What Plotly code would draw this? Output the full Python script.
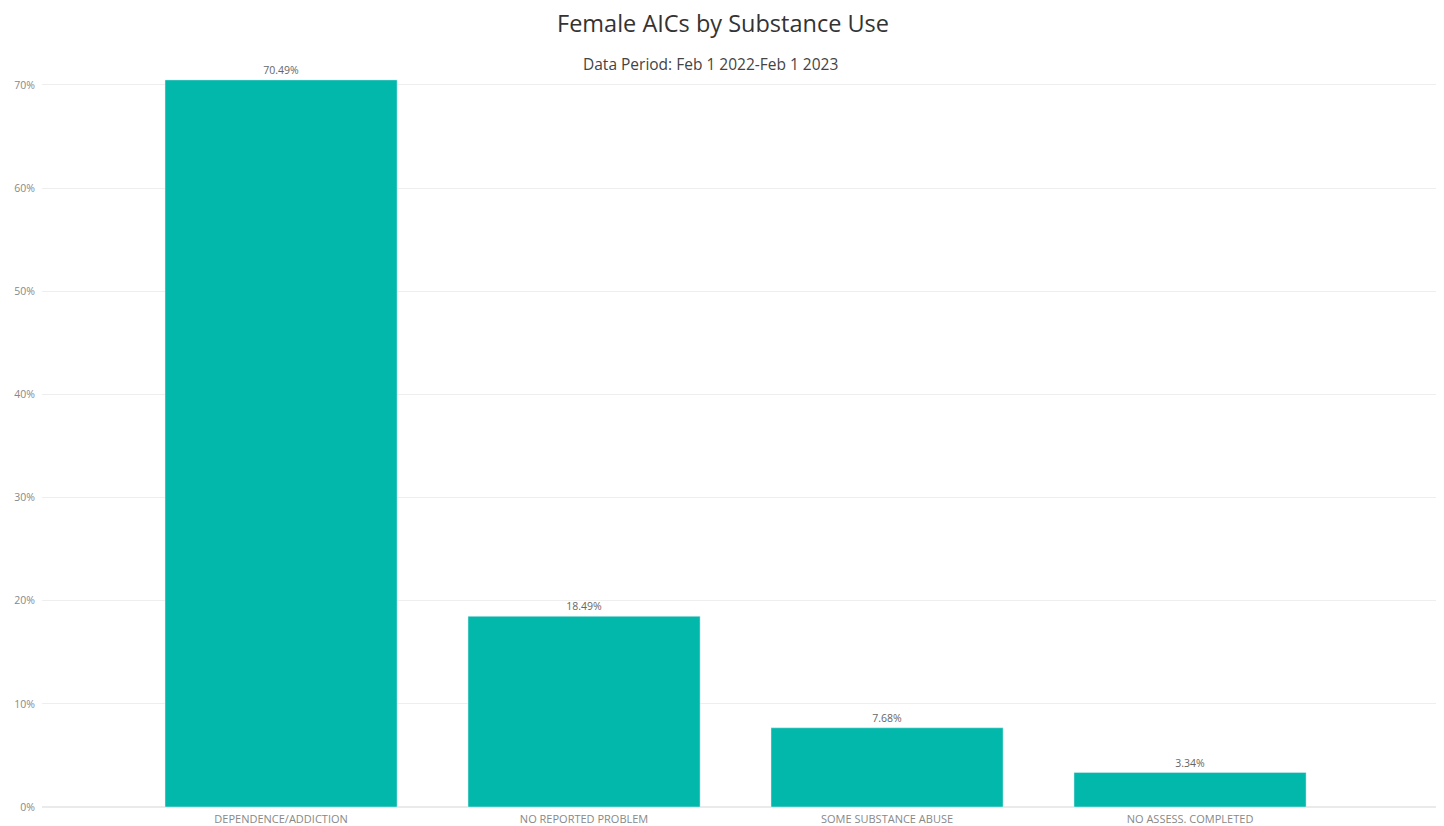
import plotly.graph_objects as go

categories = ["DEPENDENCE/ADDICTION", "NO REPORTED PROBLEM", "SOME SUBSTANCE ABUSE", "NO ASSESS. COMPLETED"]
values = [70.49, 18.49, 7.68, 3.34]
tick_vals = [0, 10, 20, 30, 40, 50, 60, 70]
tick_text = ["0%", "10%", "20%", "30%", "40%", "50%", "60%", "70%"]

# page body has an 8px margin, so the figure is drawn slightly smaller
W, H = 1436, 818
ml, mr, mt, mb = 34, 4, 46, 19
ph = H - mt - mb
pw = W - ml - mr

fig = go.Figure(go.Bar(
    x=list(range(len(categories))),
    y=values,
    marker_color="#01B8AA",
    text=[f"{v:.2f}%" for v in values],
    textposition="outside",
    textfont=dict(size=10.5, color="#666666", family="Open Sans"),
    cliponaxis=False,
    width=0.766,
))

fig.update_layout(
    width=W, height=H,
    margin=dict(l=ml, r=mr, t=mt, b=mb, autoexpand=False),
    plot_bgcolor="white", paper_bgcolor="white",
    font=dict(family="Open Sans", color="#777777"),
    showlegend=False,
    title=dict(text="Female AICs by Substance Use", x=(723 - 8) / W, xanchor="center",
               y=1 - 16 / H, yanchor="middle",
               font=dict(size=23.5, color="#333333", family="Open Sans")),
    xaxis=dict(range=[-0.789, 3.825], tickvals=list(range(len(categories))),
               ticktext=categories, tickfont=dict(size=11, color="#888888"),
               showgrid=False, zeroline=False, showline=False, ticklen=0,
               ticklabelstandoff=4, automargin=False),
    yaxis=dict(range=[0, 73], tickvals=tick_vals, ticktext=tick_text,
               tickfont=dict(size=10.5, color="#888888"),
               gridcolor="#EEEEEE", zeroline=True, zerolinecolor="#EAEAEA",
               showline=False, ticks="", ticklabelstandoff=6, automargin=False),
    annotations=[dict(text="Data Period: Feb 1 2022-Feb 1 2023",
                      x=(710 - 8 - ml) / pw, xref="paper",
                      xanchor="center", y=(H - mb - 56) / ph, yref="paper", yanchor="middle",
                      showarrow=False, font=dict(size=15.5, color="#444444", family="Open Sans"))],
)

fig.write_html("out.html")
